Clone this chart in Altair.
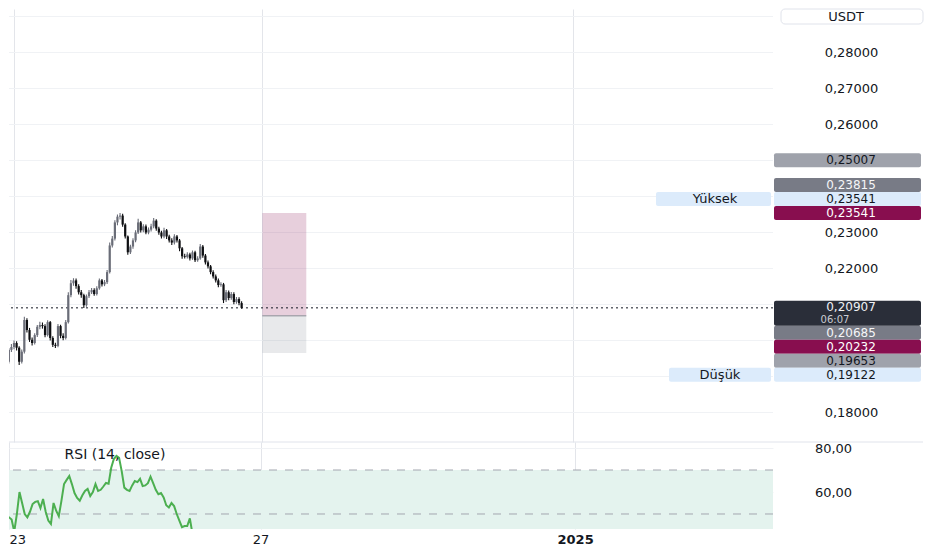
import altair as alt
import pandas as pd

# ---------------- data ----------------
first_bar = "2024-12-22 20:00"  # hourly candles

opens = [0.1952, 0.1960, 0.1941, 0.1974, 0.1982, 0.1993, 0.1980, 0.1941, 0.1969, 0.2057,
         0.2029, 0.2002, 0.1993, 0.2015, 0.2038, 0.2043, 0.2040, 0.2015, 0.2051, 0.2007,
         0.1988, 0.1985, 0.2040, 0.2013, 0.2007, 0.2051, 0.2126, 0.2159, 0.2167, 0.2151,
         0.2134, 0.2126, 0.2098, 0.2123, 0.2134, 0.2140, 0.2129, 0.2145, 0.2167, 0.2156,
         0.2162, 0.2190, 0.2264, 0.2283, 0.2328, 0.2344, 0.2347, 0.2322, 0.2289, 0.2245,
         0.2261, 0.2278, 0.2300, 0.2328, 0.2306, 0.2317, 0.2300, 0.2308, 0.2317, 0.2333,
         0.2311, 0.2300, 0.2289, 0.2306, 0.2289, 0.2278, 0.2272, 0.2289, 0.2278, 0.2256,
         0.2234, 0.2232, 0.2239, 0.2228, 0.2245, 0.2223, 0.2228, 0.2261, 0.2236, 0.2217,
         0.2206, 0.2190, 0.2178, 0.2167, 0.2154, 0.2156, 0.2112, 0.2134, 0.2118, 0.2129,
         0.2107, 0.2115, 0.2104]
highs = [0.1968, 0.1966, 0.1979, 0.1990, 0.2000, 0.1998, 0.1984, 0.1975, 0.2066, 0.2062,
         0.2035, 0.2008, 0.2020, 0.2043, 0.2052, 0.2050, 0.2045, 0.2056, 0.2054, 0.2012,
         0.1994, 0.2046, 0.2044, 0.2020, 0.2057, 0.2134, 0.2168, 0.2173, 0.2172, 0.2156,
         0.2140, 0.2130, 0.2128, 0.2140, 0.2146, 0.2145, 0.2151, 0.2172, 0.2171, 0.2168,
         0.2196, 0.2272, 0.2290, 0.2334, 0.2350, 0.23541, 0.2352, 0.2326, 0.2292, 0.2266,
         0.2284, 0.2306, 0.2338, 0.2332, 0.2323, 0.2322, 0.2314, 0.2324, 0.2340, 0.2337,
         0.2316, 0.2305, 0.2313, 0.2310, 0.2294, 0.2284, 0.2295, 0.2293, 0.2282, 0.2260,
         0.2241, 0.2245, 0.2244, 0.2250, 0.2249, 0.2234, 0.2268, 0.2265, 0.2240, 0.2222,
         0.2210, 0.2195, 0.2183, 0.2172, 0.2162, 0.2160, 0.2140, 0.2139, 0.2135, 0.2134,
         0.2121, 0.2120, 0.2109]
lows = [0.1945, 0.19122, 0.1936, 0.1968, 0.1976, 0.1972, 0.1932, 0.1936, 0.1964, 0.2022,
        0.1996, 0.1986, 0.1989, 0.2010, 0.2031, 0.2033, 0.2009, 0.2011, 0.2000, 0.1982,
        0.1979, 0.1981, 0.2006, 0.2001, 0.2003, 0.2047, 0.2120, 0.2152, 0.2144, 0.2128,
        0.2119, 0.2090, 0.2094, 0.2118, 0.2129, 0.2124, 0.2125, 0.2141, 0.2150, 0.2151,
        0.2157, 0.2186, 0.2258, 0.2278, 0.2320, 0.2336, 0.2316, 0.2283, 0.2238, 0.2240,
        0.2255, 0.2273, 0.2296, 0.2300, 0.2301, 0.2295, 0.2295, 0.2303, 0.2312, 0.2305,
        0.2294, 0.2283, 0.2284, 0.2282, 0.2272, 0.2265, 0.2267, 0.2272, 0.2248, 0.2227,
        0.2228, 0.2228, 0.2222, 0.2224, 0.2218, 0.2219, 0.2224, 0.2230, 0.2211, 0.2200,
        0.2184, 0.2172, 0.2161, 0.2148, 0.2149, 0.2104, 0.2107, 0.2112, 0.2113, 0.2101,
        0.2102, 0.2098, 0.2088]
closes = [0.1960, 0.1941, 0.1974, 0.1982, 0.1993, 0.1980, 0.1941, 0.1969, 0.2057, 0.2029,
          0.2002, 0.1993, 0.2015, 0.2038, 0.2043, 0.2040, 0.2015, 0.2051, 0.2007, 0.1988,
          0.1985, 0.2040, 0.2013, 0.2007, 0.2051, 0.2126, 0.2159, 0.2167, 0.2151, 0.2134,
          0.2126, 0.2098, 0.2123, 0.2134, 0.2140, 0.2129, 0.2145, 0.2167, 0.2156, 0.2162,
          0.2190, 0.2264, 0.2283, 0.2328, 0.2344, 0.2347, 0.2322, 0.2289, 0.2245, 0.2261,
          0.2278, 0.2300, 0.2328, 0.2306, 0.2317, 0.2300, 0.2308, 0.2317, 0.2333, 0.2311,
          0.2300, 0.2289, 0.2306, 0.2289, 0.2278, 0.2272, 0.2289, 0.2278, 0.2256, 0.2234,
          0.2232, 0.2239, 0.2228, 0.2245, 0.2223, 0.2228, 0.2261, 0.2236, 0.2217, 0.2206,
          0.2190, 0.2178, 0.2167, 0.2154, 0.2156, 0.2112, 0.2134, 0.2118, 0.2129, 0.2107,
          0.2115, 0.2104, 0.20907]
rsi_values = [46, 46.5, 47.5, 48, 48.5, 47.5, 42, 50, 60, 55,
              50, 48.5, 51, 54.5, 55.5, 55.8, 52.7, 56.8, 51, 47,
              45.5, 55, 51.5, 49, 56, 63.6, 65.5, 67.3, 63.6, 59.5,
              57.3, 56, 58.5, 60.5, 61.4, 58.2, 60, 63.6, 60.5, 61,
              62.5, 64.1, 63.8, 71, 75, 76.4, 75.5, 69.5, 62, 61,
              60.5, 63, 65, 64.5, 66, 62.7, 63, 64, 67, 64,
              61, 59, 59.5, 57.5, 54, 53, 55, 53.6, 50, 47,
              44, 44.5, 44.5, 48, 41, 38, 42, 40, 37.5, 35,
              33, 31.5, 30, 29, 31.5, 27.5, 30, 28.5, 29.5, 31,
              29, 30.5, 28.5]

last_price = 0.20907
bar_countdown = "06:07"
currency = "USDT"
rsi_title = "RSI (14, close)"
high_text = "Yüksek"
low_text = "Düşük"

price_ticks = [0.18, 0.19, 0.20, 0.21, 0.22, 0.23, 0.24, 0.25, 0.26, 0.27, 0.28, 0.29]
rsi_ticks = [60, 80]
rsi_levels = [70, 50, 30]

badge_values = [0.25007, 0.23815, 0.23541, 0.23541, 0.20685, 0.20232, 0.19653, 0.19122]
badge_kinds = ["light", "grey", "high", "mark", "grey", "mark", "light", "low"]

box_start = "2024-12-27T00:00:00Z"
box_end = "2024-12-27T17:00:00Z"
box_target = 0.23541
box_entry = 0.20685
box_stop = 0.19653

# ---------------- layout / style ----------------
FONT = "DejaVu Sans"
FS = 13
BFS = 12
INK = "#131722"
W, H_TOP, H_RSI = 764, 433, 87
P_MAX, P_MIN = 0.292083, 0.171806
R_MAX, R_MIN = 82.73, 43.18
PPU = H_TOP / (P_MAX - P_MIN)
HGRID = "#f0f2f5"
VGRID = "#e3e5ea"
UP, DOWN = "#6a6d78", "#0e0f12"
UNIT_BOX_BOTTOM = 15

KIND_STYLE = {
    "light": ("#9fa2ab", INK),
    "grey": ("#787b86", "#f5f6f8"),
    "high": ("#dcebfb", INK),
    "low": ("#dcebfb", INK),
    "mark": ("#880e4f", "#ffffff"),
}


def to_px(p):
    return (P_MAX - p) * PPU


def to_price(px):
    return P_MAX - px / PPU


# stack price badges on the right scale so they do not overlap
HALF = 7
cur = to_px(last_price)
dark_top, dark_bottom = cur - 7, cur + 18
placed = []
idx = list(range(len(badge_values)))
upper = sorted([i for i in idx if badge_values[i] > last_price],
               key=lambda i: (badge_values[i], 0 if badge_kinds[i] == "mark" else 1))
prev = None
for i in upper:
    y = to_px(badge_values[i])
    if prev is not None:
        y = min(y, prev - 2 * HALF)
    prev = y
    placed.append((i, y))
lower = sorted([i for i in idx if badge_values[i] < last_price], key=lambda i: -badge_values[i])
prev_bottom = dark_bottom
for i in lower:
    y = max(to_px(badge_values[i]), prev_bottom + HALF)
    prev_bottom = y + HALF
    placed.append((i, y))

badge_df = pd.DataFrame([{
    "y0": to_price(y - HALF), "y1": to_price(y + HALF), "yc": to_price(y),
    "label": f"{badge_values[i]:.5f}".replace(".", ","),
    "fill": KIND_STYLE[badge_kinds[i]][0], "ink": KIND_STYLE[badge_kinds[i]][1],
    "kind": badge_kinds[i]} for i, y in placed])

# scale labels hidden behind a badge are not drawn (as on the reference)
covers = [(y - HALF, y + HALF) for _, y in placed] + [(dark_top, dark_bottom), (0, UNIT_BOX_BOTTOM)]
shown_ticks = [p for p in price_ticks
               if not any(a - 5 < to_px(p) < b + 5 for a, b in covers)]

# ---------------- scales / axes ----------------
x_scale = alt.Scale(type="utc", domain=[
    alt.DateTime(year=2024, month=12, date=23, utc=True),
    alt.DateTime(year=2025, month=1, date=4, hours=3, minutes=30, utc=True)])
grid_dates = [alt.DateTime(year=2024, month=12, date=23, utc=True),
              alt.DateTime(year=2024, month=12, date=27, utc=True),
              alt.DateTime(year=2025, month=1, date=1, utc=True)]

top_x_axis = alt.Axis(values=grid_dates, labels=False, ticks=False, domain=False,
                      grid=True, gridColor=VGRID, title=None)
is_year = "utcmonth(datum.value) == 0 && utcdate(datum.value) == 1"
bottom_x_axis = alt.Axis(
    values=grid_dates, ticks=False, domain=False, grid=True, gridColor=VGRID, title=None,
    labelExpr=is_year + " ? utcFormat(datum.value, '%Y') : utcFormat(datum.value, '%d')",
    labelFontWeight={"condition": {"test": is_year, "value": "bold"}, "value": "normal"},
    labelFontSize=FS, labelColor=INK, labelPadding=4, labelFlush=True)

y_price_scale = alt.Scale(domain=[P_MIN, P_MAX], nice=False, zero=False)
y_price_axis = alt.Axis(orient="right", values=shown_ticks,
                        labelExpr="replace(format(datum.value, '.5f'), '.', ',')",
                        grid=False, ticks=False, tickSize=0, domain=False,
                        labelAlign="center", labelPadding=78, labelFontSize=FS,
                        labelColor=INK, title=None, zindex=0)

y_rsi_scale = alt.Scale(domain=[R_MIN, R_MAX], nice=False, zero=False)
y_rsi_axis = alt.Axis(orient="right", values=rsi_ticks,
                      labelExpr="replace(format(datum.value, '.2f'), '.', ',')",
                      grid=True, gridColor=HGRID, ticks=False, tickSize=0, domain=False,
                      labelAlign="center", labelPadding=60, labelFontSize=FS,
                      labelColor=INK, title=None, zindex=0)


def Xt(field, axis=top_x_axis):
    return alt.X(field, type="temporal", scale=x_scale, axis=axis)


def Yp(field):
    return alt.Y(field, type="quantitative", scale=y_price_scale, axis=y_price_axis)


def Yr(field):
    return alt.Y(field, type="quantitative", scale=y_rsi_scale, axis=y_rsi_axis)


# ---------------- price panel ----------------
times = pd.date_range(first_bar, periods=len(closes), freq="h").strftime("%Y-%m-%dT%H:%M:%SZ")
candles = pd.DataFrame({"t": times, "open": opens, "high": highs, "low": lows, "close": closes})
candle_color = alt.condition("datum.close >= datum.open", alt.value(UP), alt.value(DOWN))

grid_lines = alt.Chart(pd.DataFrame({"p": price_ticks})).mark_rule(
    color=HGRID, strokeWidth=1).encode(y=Yp("p"))

box_df = pd.DataFrame({"t0": [box_start, box_start], "t1": [box_end, box_end],
                       "y0": [box_entry, box_stop], "y1": [box_target, box_entry],
                       "fill": ["#880e4f", "#787b86"], "op": [0.2, 0.17]})
box = alt.Chart(box_df).mark_rect().encode(
    x=Xt("t0"), x2="t1", y=Yp("y0"), y2="y1",
    color=alt.Color("fill:N", scale=None), opacity=alt.Opacity("op:Q", scale=None))
entry_line = alt.Chart(pd.DataFrame({"t0": [box_start], "t1": [box_end], "p": [box_entry]})).mark_rule(
    color="#8a8d96", strokeWidth=1).encode(x=Xt("t0"), x2="t1", y=Yp("p"))

price_line = alt.Chart(pd.DataFrame({"p": [last_price]})).mark_rule(
    color=INK, strokeDash=[2, 3], strokeWidth=1).encode(y=Yp("p"))

wicks = alt.Chart(candles).mark_rule(strokeWidth=1.1, clip=True).encode(
    x=Xt("t"), y=Yp("low"), y2="high", color=candle_color)
bodies = alt.Chart(candles).mark_bar(width=2.2, clip=True).encode(
    x=Xt("t"), y=Yp("open"), y2="close", color=candle_color)

badge_rects = alt.Chart(badge_df).mark_rect(cornerRadius=2).encode(
    x=alt.value(765), x2=alt.value(912), y=Yp("y0"), y2="y1",
    color=alt.Color("fill:N", scale=None))
badge_texts = alt.Chart(badge_df).mark_text(fontSize=BFS, align="center", baseline="middle").encode(
    x=alt.value(842), y=Yp("yc"), text="label:N", color=alt.Color("ink:N", scale=None))

dark_df = pd.DataFrame({"y0": [to_price(dark_top)], "y1": [to_price(dark_bottom)],
                        "yp": [to_price(cur - 0.5)], "yt": [to_price(cur + 12.5)],
                        "price": [f"{last_price:.5f}".replace(".", ",")], "left": [bar_countdown]})
dark_rect = alt.Chart(dark_df).mark_rect(cornerRadius=2, color="#2a2e39").encode(
    x=alt.value(765), x2=alt.value(912), y=Yp("y0"), y2="y1")
dark_price = alt.Chart(dark_df).mark_text(fontSize=BFS, align="center", baseline="middle", color="#eef0f4").encode(
    x=alt.value(842), y=Yp("yp"), text="price:N")
dark_time = alt.Chart(dark_df).mark_text(fontSize=10, align="center", baseline="middle", color="#c9ccd4").encode(
    x=alt.value(826), y=Yp("yt"), text="left:N")


def side_label(kind, text, x0, xc):
    d = badge_df[badge_df["kind"] == kind].assign(tag=text)
    r = alt.Chart(d).mark_rect(cornerRadius=2, color="#dcebfb").encode(
        x=alt.value(x0), x2=alt.value(762), y=Yp("y0"), y2="y1")
    t = alt.Chart(d).mark_text(fontSize=FS, align="center", baseline="middle", color=INK).encode(
        x=alt.value(xc), y=Yp("yc"), text="tag:N")
    return r + t


unit_df = pd.DataFrame({"u": [currency]})
unit_box = alt.Chart(unit_df).mark_rect(cornerRadius=4, fill="white", stroke="#e0e3eb").encode(
    x=alt.value(772), x2=alt.value(914), y=alt.value(0), y2=alt.value(UNIT_BOX_BOTTOM))
unit_text = alt.Chart(unit_df).mark_text(fontSize=FS, align="center", baseline="middle", color=INK).encode(
    x=alt.value(837), y=alt.value(7.5), text="u:N")

top = alt.layer(
    grid_lines, box, entry_line, price_line, wicks, bodies,
    badge_rects, badge_texts, dark_rect, dark_price, dark_time,
    side_label("high", high_text, 647, 706), side_label("low", low_text, 660, 711),
    unit_box, unit_text,
).properties(width=W, height=H_TOP)

# ---------------- RSI panel ----------------
rsi_df = pd.DataFrame({"t": times, "rsi": rsi_values})
band = alt.Chart(pd.DataFrame({"hi": [rsi_levels[0]], "lo": [rsi_levels[2]]})).mark_rect(
    color="#e4f3ee", clip=True).encode(x=alt.value(0), x2=alt.value(W), y=Yr("hi"), y2="lo")
levels = alt.Chart(pd.DataFrame({"v": rsi_levels})).mark_rule(
    color="#a3a6af", strokeDash=[8, 8], strokeWidth=1, clip=True).encode(y=Yr("v"))
rsi_line = alt.Chart(rsi_df).mark_line(color="#4caf50", strokeWidth=2, clip=True).encode(
    x=Xt("t", bottom_x_axis), y=Yr("rsi"))
rsi_label = alt.Chart(pd.DataFrame({"s": [rsi_title]})).mark_text(
    fontSize=FS + 1, align="center", baseline="middle", color=INK).encode(
    x=alt.value(106), y=alt.value(13), text="s:N")
separator = alt.Chart(pd.DataFrame({"s": [0]})).mark_rule(color="#e0e3eb", strokeWidth=1).encode(
    y=alt.value(0), x=alt.value(0), x2=alt.value(914))

bottom = alt.layer(band, levels, rsi_line, rsi_label, separator).properties(width=W, height=H_RSI)

chart = alt.vconcat(top, bottom, spacing=0, bounds="flush", padding=0, background="white").configure(
    font=FONT).configure_view(stroke=None)

chart.save("out.html", embed_options={"renderer": "svg", "actions": False})
